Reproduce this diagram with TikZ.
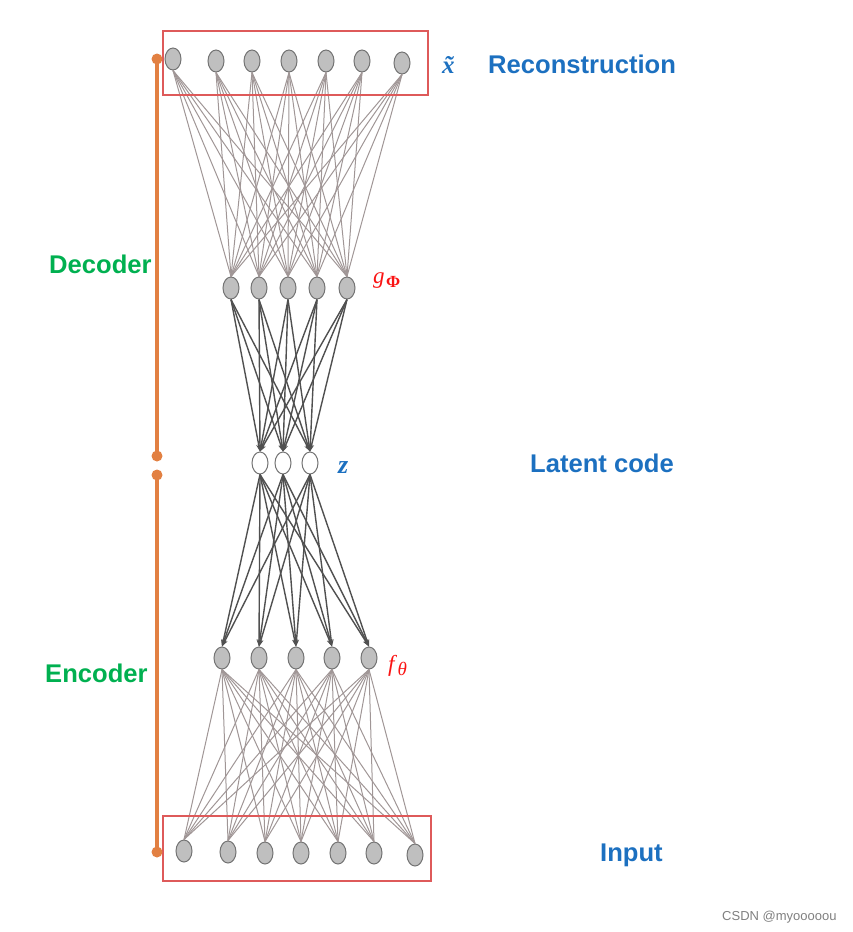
\documentclass[tikz,border=0pt]{standalone}
\usepackage{fontspec}
\usetikzlibrary{shapes.geometric,arrows.meta}
\newfontfamily\arial{Liberation Sans}
\newfontfamily\timesf{Liberation Serif}
\definecolor{lightedge}{RGB}{160,150,150}
\definecolor{darkedge}{RGB}{80,80,80}
\definecolor{nodefill}{RGB}{191,191,191}
\definecolor{nodeline}{RGB}{115,115,115}
\definecolor{labelblue}{RGB}{28,112,192}
\definecolor{labelgreen}{RGB}{0,176,80}
\definecolor{boxred}{RGB}{222,90,90}
\definecolor{orangebar}{RGB}{226,128,66}
\definecolor{mathred}{RGB}{250,20,20}
\tikzset{
  neuron/.style={ellipse, minimum width=16pt, minimum height=22pt, inner sep=0pt, fill=nodefill, draw=nodeline, line width=1pt},
  latent/.style={neuron, fill=white},
  thin edge/.style={draw=lightedge, line width=1pt},
  thick edge/.style={draw=darkedge, line width=1.4pt, -{Stealth[length=7pt,width=5pt]}},
  redbox/.style={draw=boxred, line width=1.3pt},
  bar/.style={draw=orangebar, line width=3.2pt},
  bigword/.style={font=\arial\fontsize{25.6}{30}\selectfont\bfseries, inner sep=0pt, anchor=base west},
  mathlabel/.style={font=\timesf\fontsize{23}{28}\selectfont\itshape, inner sep=0pt, anchor=base west},
}
\begin{document}
\begin{tikzpicture}[x=1pt,y=-1pt]
\path[use as bounding box] (0,0) rectangle (852,932);
% layers
\foreach \i/\x/\y in {1/173/59,2/216/61,3/252/61,4/289/61,5/326/61,6/362/61,7/402/63}
  \node[neuron] (t\i) at (\x,\y) {};
\foreach \i/\x in {1/231,2/259,3/288,4/317,5/347}
  \node[neuron] (g\i) at (\x,288) {};
\foreach \i/\x in {1/260,2/283,3/310}
  \node[latent] (z\i) at (\x,463) {};
\foreach \i/\x in {1/222,2/259,3/296,4/332,5/369}
  \node[neuron] (f\i) at (\x,658) {};
\foreach \i/\x/\y in {1/184/851,2/228/852,3/265/853,4/301/853,5/338/853,6/374/853,7/415/855}
  \node[neuron] (b\i) at (\x,\y) {};
% edges
\foreach \i in {1,...,7}
  \foreach \j in {1,...,5}
    \draw[thin edge] (t\i.south) -- (g\j.north);
\foreach \i in {1,...,5}
  \foreach \j in {1,...,3}
    \draw[thick edge] (g\i.south) -- (z\j.north);
\foreach \i in {1,...,3}
  \foreach \j in {1,...,5}
    \draw[thick edge] (z\i.south) -- (f\j.north);
\foreach \i in {1,...,5}
  \foreach \j in {1,...,7}
    \draw[thin edge] (f\i.south) -- (b\j.north);
% boxes
\draw[redbox] (163,31) rectangle (428,95);
\draw[redbox] (163,816) rectangle (431,881);
% orange bars
\coordinate (d1) at (157,59);
\coordinate (d2) at (157,456);
\coordinate (e1) at (157,475);
\coordinate (e2) at (157,852);
\draw[bar] (d1) -- (d2);
\draw[bar] (e1) -- (e2);
\foreach \p in {d1,d2,e1,e2}
  \fill[orangebar] (\p) circle (5.5pt);
% labels
\node[bigword, text=labelblue] (rec) at (488,73) {Reconstruction};
\node[bigword, text=labelblue] (lat) at (530,472) {Latent code};
\node[bigword, text=labelblue] (inp) at (600,861) {Input};
\node[bigword, text=labelgreen] (dec) at (49,273) {Decoder};
\node[bigword, text=labelgreen] (enc) at (45,682) {Encoder};
\node[mathlabel, text=labelblue, font=\timesf\fontsize{25}{30}\selectfont\bfseries\itshape] (xt) at (442,73) {\~x};
\node[mathlabel, text=labelblue, font=\timesf\fontsize{26}{30}\selectfont\bfseries\itshape] (zl) at (338,473) {z};
\node[mathlabel, text=mathred] (gl) at (373,283) {g\hspace{1.5pt}\raisebox{-4pt}{\fontsize{17}{20}\selectfont\upshape\bfseries Φ}};
\node[mathlabel, text=mathred] (fl) at (388,671) {f\hspace{3pt}\raisebox{-4pt}{\fontsize{19}{22}\selectfont θ}};
\node[font=\arial\fontsize{13}{16}\selectfont, text=gray, inner sep=0pt, anchor=base west] (wm) at (722,920) {CSDN @myooooou};
\end{tikzpicture}
\end{document}
